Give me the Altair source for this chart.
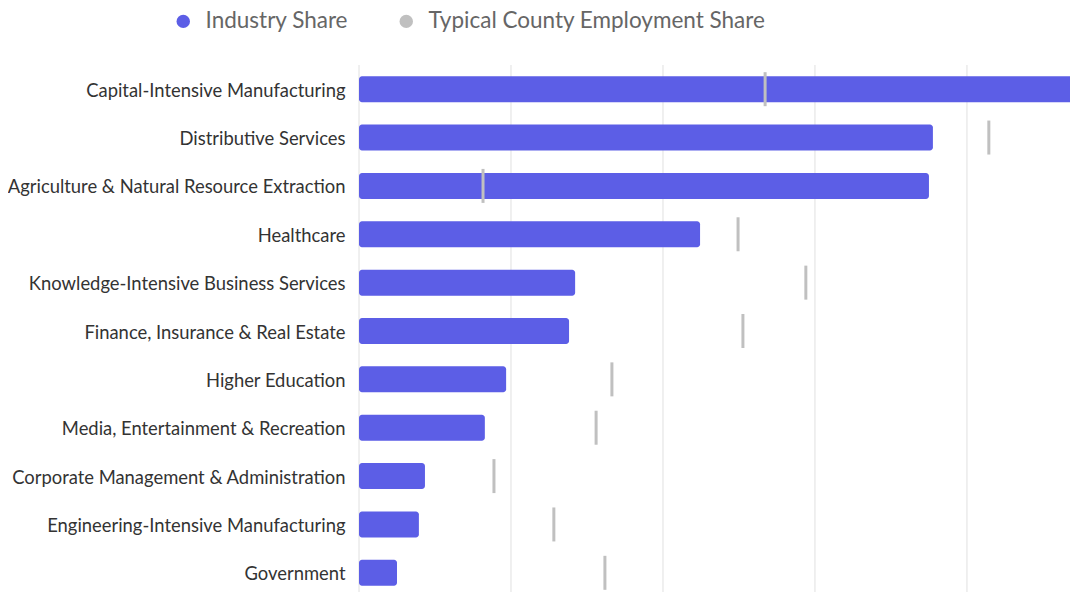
import altair as alt
import pandas as pd

categories = [
    "Capital-Intensive Manufacturing",
    "Distributive Services",
    "Agriculture & Natural Resource Extraction",
    "Healthcare",
    "Knowledge-Intensive Business Services",
    "Finance, Insurance & Real Estate",
    "Higher Education",
    "Media, Entertainment & Recreation",
    "Corporate Management & Administration",
    "Engineering-Intensive Manufacturing",
    "Government",
]
industry_share = [23.65, 18.88, 18.75, 11.22, 7.11, 6.91, 4.84, 4.14, 2.17, 1.97, 1.25]
typical_share = [13.36, 20.72, 4.08, 12.47, 14.70, 12.63, 8.32, 7.80, 4.44, 6.41, 8.09]
grid_values = [0, 5, 10, 15, 20]

series_names = ["Industry Share", "Typical County Employment Share"]
series_colors = ["#5c5ee6", "#c0c0c0"]

df = pd.DataFrame({"category": categories, "industry": industry_share, "typical": typical_share,
                   "s1": series_names[0], "s2": series_names[1]})
grid_df = pd.DataFrame({"g": grid_values})

color_scale = alt.Scale(domain=series_names, range=series_colors)
xscale = alt.Scale(domain=[0, 23.39], nice=False, zero=True)

y = alt.Y("category:N", sort=categories, title=None,
          scale=alt.Scale(paddingInner=0.46, paddingOuter=0.23, range=[0, 532]),
          axis=alt.Axis(domain=False, ticks=False, grid=False, labelPadding=14,
                        labelFontSize=18.4, labelColor="#333333", labelFont="Lato",
                        labelLimit=400, labelOffset=1.5))

legend = alt.Legend(title=None, orient="none", legendX=-187, legendY=-55,
                    direction="horizontal", symbolType="circle",
                    symbolSize=180, labelFontSize=22.5, labelFont="Lato",
                    labelColor="#666666", columnPadding=46, labelLimit=500,
                    labelOffset=11, symbolStrokeWidth=0, symbolOpacity=1)

grid = alt.Chart(grid_df).mark_rule(color="#e0e0e0", strokeWidth=1).encode(
    x=alt.X("g:Q", scale=xscale, axis=None),
    y=alt.value(0),
    y2=alt.value(527),
)

bars = alt.Chart(df).mark_bar(size=26, cornerRadius=3, clip=True).encode(
    x=alt.X("industry:Q", scale=xscale, axis=None, stack=None),
    y=y,
    color=alt.Color("s1:N", scale=color_scale, legend=legend),
)

ticks = alt.Chart(df).mark_tick(size=34, thickness=3, opacity=1).encode(
    x=alt.X("typical:Q", scale=xscale),
    y=y,
    color=alt.Color("s2:N", scale=color_scale, legend=legend),
)

chart = alt.layer(grid, bars, ticks).properties(
    width=711, height=527,
    autosize=alt.AutoSizeParams(type="none"),
    padding={"left": 351, "top": 57, "right": 0, "bottom": 0},
).configure_view(stroke=None)

chart.save("out.html", embed_options={"renderer": "svg", "actions": False})
